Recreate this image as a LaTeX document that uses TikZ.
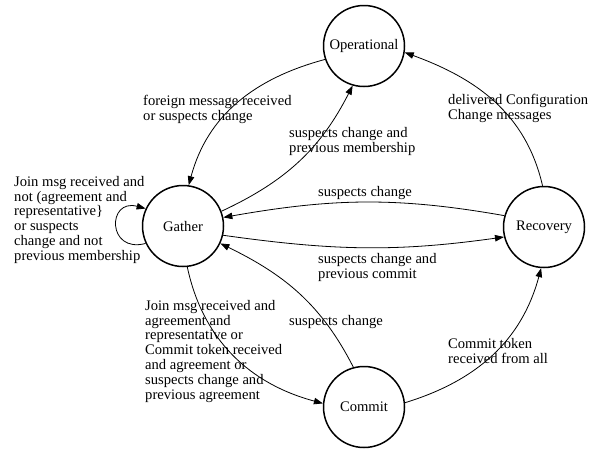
\documentclass[tikz,border=0pt]{standalone}
\usepackage{fontspec}
\setmainfont{Liberation Serif}
\usetikzlibrary{arrows.meta}
\begin{document}
\begin{tikzpicture}[x=1pt,y=1pt,
  state/.style={circle,draw,line width=1.5pt,minimum size=81pt,inner sep=0pt,font=\fontsize{14.6}{14.8}\selectfont},
  edge/.style={line width=0.8pt,-{Triangle[length=9pt,width=6.5pt]}},
  lbl/.style={anchor=north west,inner sep=0pt,align=left,font=\fontsize{14.6}{14.8}\selectfont}]
\useasboundingbox (0,0) rectangle (600,-451);
\node[state] (O) at (364,-46) {Operational};
\node[state] (G) at (183,-226) {Gather};
\node[state] (R) at (544,-227) {Recovery};
\node[state] (C) at (364,-407) {Commit};
% edges
\draw[edge] (O.199) to[out=195,in=75] (G.82);
\draw[edge] (G.21) to[out=25,in=243] (O.254);
\draw[edge] (R.164) to[out=170,in=10] (G.12);
\draw[edge] (G.347) to[out=-8,in=188] (R.194);
\draw[edge] (C.105) to[out=117,in=-26] (G.335);
\draw[edge] (G.276) to[out=-78,in=165] (C.175);
\draw[edge] (C.6) to[out=17,in=255] (R.266);
\draw[edge] (R.92) to[out=103,in=-20] (O.351);
\draw[edge] (G.205) .. controls +(195:40) and +(165:40) .. (G.155);
% labels
\node[lbl] (l1) at (143,-95) {foreign message received\\or suspects change};
\node[lbl] (l2) at (289,-127) {suspects change and\\previous membership};
\node[lbl] (l3) at (14,-176) {Join msg received and\\not (agreement and\\representative\}\\or suspects\\change and not\\previous membership};
\node[lbl] (l4) at (318,-186) {suspects change};
\node[lbl] (l5) at (318,-253) {suspects change and\\previous commit};
\node[lbl] (l6) at (145,-300) {Join msg received and\\agreement and\\representative or\\Commit token received\\and agreement or\\suspects change and\\previous agreement};
\node[lbl] (l7) at (289,-315) {suspects change};
\node[lbl] (l8) at (448,-338) {Commit token\\received from all};
\node[lbl] (l9) at (448,-94) {delivered Configuration\\Change messages};
\end{tikzpicture}
\end{document}
